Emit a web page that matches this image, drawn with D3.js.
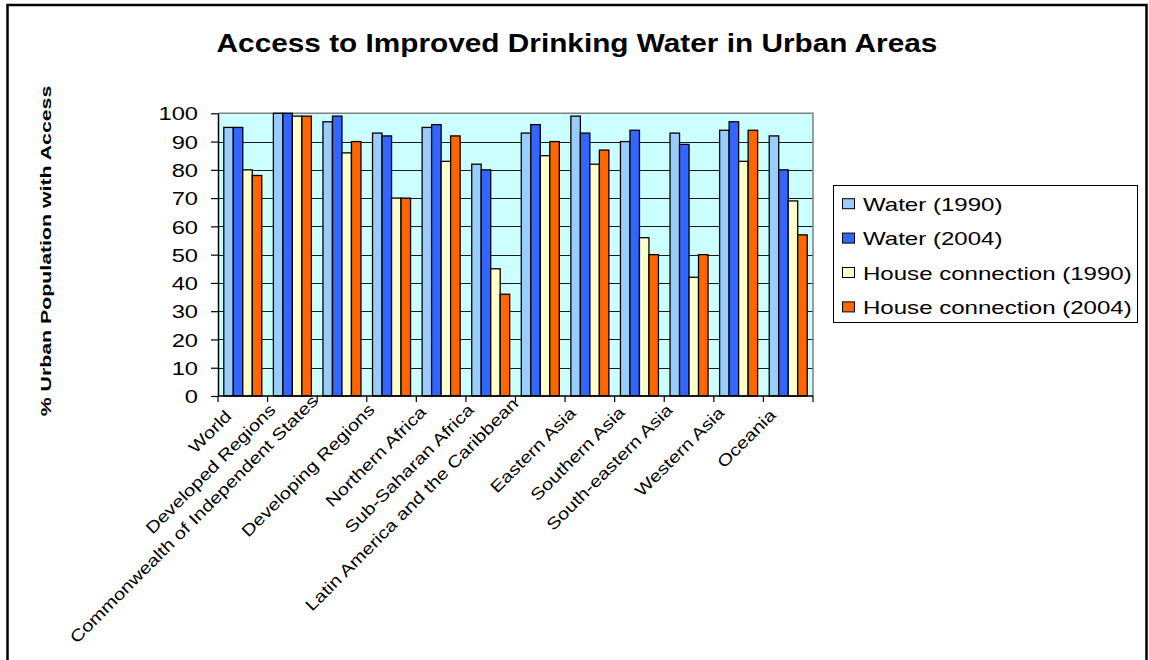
<!DOCTYPE html>
<html>
<head>
<meta charset="utf-8">
<script src="https://cdn.jsdelivr.net/npm/d3@7"></script>
<style>
  html, body { margin: 0; padding: 0; background: #fff; }
  text { font-family: "Liberation Sans", Arial, Helvetica, sans-serif; fill: #000; }
</style>
</head>
<body>
<script>
// Urban drinking-water access by region, 1990 vs 2004 (percent of urban population)
const categories = [
  "World", "Developed Regions", "Commonwealth of Independent States",
  "Developing Regions", "Northern Africa", "Sub-Saharan Africa",
  "Latin America and the Caribbean", "Eastern Asia", "Southern Asia",
  "South-eastern Asia", "Western Asia", "Oceania"
];
const water1990 = [95, 100, 97, 93, 95, 82, 93, 99, 90, 93, 94, 92];
const water2004 = [95, 100, 99, 92, 96, 80, 96, 93, 94, 89, 97, 80];
const house1990 = [80, 99, 86, 70, 83, 45, 85, 82, 56, 42, 83, 69];
const house2004 = [78, 99, 90, 70, 92, 36, 90, 87, 50, 50, 94, 57];
const seriesNames = ["Water (1990)", "Water (2004)", "House connection (1990)", "House connection (2004)"];
const seriesColors = ["#99CCFF", "#3366FF", "#FFFFCC", "#FF6600"];
const yTicks = [0, 10, 20, 30, 40, 50, 60, 70, 80, 90, 100];

const seriesValues = [water1990, water2004, house1990, house2004];

const W = 1149, H = 660;
const plot = { left: 218, right: 813, top: 113.3, bottom: 396 };

const svg = d3.select("body").append("svg")
  .attr("width", W).attr("height", H);

// widen glyphs along the baseline to the chart's wide lettering
function widen(sel, factor) {
  sel.each(function () {
    const n = this.getComputedTextLength();
    d3.select(this).attr("textLength", n * factor).attr("lengthAdjust", "spacingAndGlyphs");
  });
}

const x0 = d3.scaleBand().domain(categories).range([plot.left, plot.right]).paddingInner(0).paddingOuter(0);
const x1 = d3.scaleBand().domain(seriesNames).range([0, x0.bandwidth()]).paddingInner(0).paddingOuter(0.61);
const y = d3.scaleLinear().domain([0, 100]).range([plot.bottom, plot.top]);

// category labels sit underneath the plot area
const labelLayer = svg.append("g");
categories.forEach(c => {
  const t = labelLayer.append("text")
    .attr("font-size", 16.5)
    .attr("text-anchor", "end")
    .text(c);
  widen(t, 1.22);
  const L = +t.attr("textLength");
  const cx = x0(c) + x0.bandwidth() / 2;
  const px = cx - 8 - 0.044 * L;
  const py = 420 - 0.052 * L;
  t.attr("transform", `translate(${px},${py}) rotate(-45)`);
});

// plot background
svg.append("rect")
  .attr("x", plot.left).attr("y", plot.top)
  .attr("width", plot.right - plot.left).attr("height", plot.bottom - plot.top)
  .attr("fill", "#CCFFFF");

// horizontal gridlines
svg.append("g").selectAll("line").data(yTicks.filter(d => d > 0 && d < 100)).join("line")
  .attr("x1", plot.left).attr("x2", plot.right)
  .attr("y1", d => Math.round(y(d)) + 0.5).attr("y2", d => Math.round(y(d)) + 0.5)
  .attr("stroke", "#1a1a1a").attr("stroke-width", 1);

// plot frame (top and right edges)
svg.append("path")
  .attr("d", `M${plot.left},${plot.top}H${plot.right}V${plot.bottom}`)
  .attr("fill", "none").attr("stroke", "#808080").attr("stroke-width", 1.5);

// bars
const groups = svg.append("g").selectAll("g").data(categories).join("g")
  .attr("transform", c => `translate(${x0(c)},0)`);
groups.selectAll("rect")
  .data((c, i) => seriesNames.map((s, k) => ({ s, k, v: seriesValues[k][i] })))
  .join("rect")
  .attr("x", d => x1(d.s))
  .attr("width", x1.bandwidth())
  .attr("y", d => y(d.v))
  .attr("height", d => y(0) - y(d.v))
  .attr("fill", d => seriesColors[d.k])
  .attr("stroke", "#000").attr("stroke-width", 1.3);

// y axis
const yAxis = svg.append("g")
  .attr("transform", `translate(${plot.left},0)`)
  .call(d3.axisLeft(y).tickValues(yTicks).tickSize(7).tickPadding(13).tickSizeOuter(0));
yAxis.select(".domain").attr("stroke", "#000").attr("stroke-width", 1.5);
yAxis.selectAll(".tick line").attr("stroke", "#000").attr("stroke-width", 1.2);
yAxis.selectAll(".tick text")
  .attr("font-size", 18.5)
  .attr("font-family", null)
  .attr("dy", "0.36em");
widen(yAxis.selectAll(".tick text"), 1.28);

// x axis with ticks on the category boundaries
const bounds = categories.map(c => x0(c)).concat([plot.right]);
svg.append("line")
  .attr("x1", plot.left).attr("x2", plot.right)
  .attr("y1", plot.bottom).attr("y2", plot.bottom)
  .attr("stroke", "#000").attr("stroke-width", 1.5);
svg.append("g").selectAll("line").data(bounds).join("line")
  .attr("x1", d => d).attr("x2", d => d)
  .attr("y1", plot.bottom).attr("y2", plot.bottom + 6)
  .attr("stroke", "#000").attr("stroke-width", 1.2);

// title
const title = svg.append("text")
  .attr("x", 577).attr("y", 52)
  .attr("text-anchor", "middle")
  .attr("font-size", 26).attr("font-weight", "bold")
  .text("Access to Improved Drinking Water in Urban Areas");
widen(title, 1.145);

// y axis title
const yTitle = svg.append("text")
  .attr("transform", `translate(51,251) rotate(-90)`)
  .attr("text-anchor", "middle")
  .attr("font-size", 15).attr("font-weight", "bold")
  .text("% Urban Population with Access");
widen(yTitle, 1.42);

// legend
const legend = svg.append("g");
legend.append("rect")
  .attr("x", 833.5).attr("y", 185.5).attr("width", 304).attr("height", 137)
  .attr("fill", "#fff").attr("stroke", "#000").attr("stroke-width", 1);
const rows = legend.selectAll("g").data(seriesNames).join("g")
  .attr("transform", (d, i) => `translate(0,${210.7 + i * 34.4})`);
rows.append("rect")
  .attr("x", 842.5).attr("y", -12).attr("width", 12).attr("height", 10)
  .attr("fill", (d, i) => seriesColors[i]).attr("stroke", "#000").attr("stroke-width", 1);
rows.append("text")
  .attr("x", 863).attr("y", 0)
  .attr("font-size", 18.5)
  .text(d => d);
widen(rows.selectAll("text"), 1.3);

// outer chart frame
svg.append("rect")
  .attr("x", 7.5).attr("y", 5).attr("width", 1139).attr("height", 680)
  .attr("fill", "none").attr("stroke", "#000").attr("stroke-width", 2.5);
</script>
</body>
</html>
